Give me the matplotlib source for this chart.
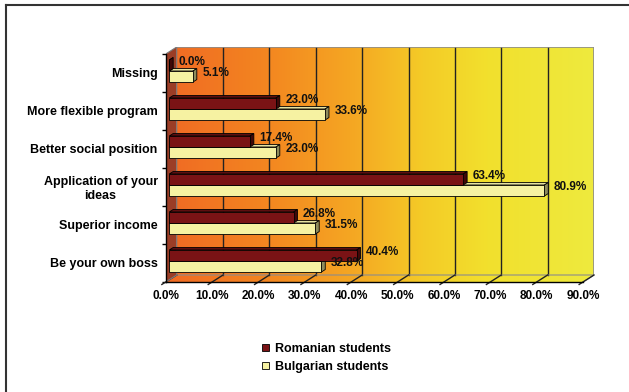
import numpy as np
import matplotlib.pyplot as plt
from matplotlib.patches import Polygon, Patch
from matplotlib.colors import LinearSegmentedColormap
from matplotlib.lines import Line2D

plt.rcParams['font.family'] = ['Liberation Sans', 'DejaVu Sans']
plt.rcParams['font.weight'] = 'bold'
plt.rcParams['font.size'] = 8.5

# data (bottom to top, as drawn)
categories = ['Be your own boss', 'Superior income', 'Application of your\nideas',
              'Better social position', 'More flexible program', 'Missing']
romanian = [40.4, 26.8, 63.4, 17.4, 23.0, 0.0]
bulgarian = [32.8, 31.5, 80.9, 23.0, 33.6, 5.1]
x_ticks = [0, 10, 20, 30, 40, 50, 60, 70, 80, 90]
series_names = ['Romanian students', 'Bulgarian students']

W, H = 629, 392
PX_PER_PCT = 417.3 / 90
PX_PER_CAT = 38.0
DX = 11.0 / PX_PER_PCT      # depth offset of the back wall, in data units
DY = 7.0 / PX_PER_CAT
XMAX, YMAX = 90, 6

fig = plt.figure(figsize=(W / 100, H / 100), dpi=100)
ax = fig.add_axes([165.7 / W, 1 - 282 / H,
                   (XMAX + DX) * PX_PER_PCT / W, (YMAX + DY) * PX_PER_CAT / H])

# back wall + floor gradient
wall_cmap = LinearSegmentedColormap.from_list('wall', [
    (0.0, '#F06A24'), (0.22, '#F38420'), (0.44, '#F5A823'),
    (0.6, '#F4CB27'), (0.75, '#F2E02D'), (1.0, '#EEEA3E')])
grad = np.linspace(0, 1, 256).reshape(1, -1)
im = ax.imshow(grad, cmap=wall_cmap, extent=[0, XMAX + DX, 0, YMAX + DY],
               aspect='auto', origin='lower', zorder=0)
shape = Polygon([(0, 0), (XMAX, 0), (XMAX + DX, DY), (XMAX + DX, YMAX + DY),
                 (DX, YMAX + DY), (DX, DY)], closed=True, transform=ax.transData,
                facecolor='none', edgecolor='none')
ax.add_patch(shape)
im.set_clip_path(shape)

# gridlines on the back wall
for x in x_ticks[1:-1]:
    ax.plot([x + DX, x + DX], [DY, YMAX + DY], color='#222222', lw=1, zorder=1)
# wall border
ax.plot([DX, XMAX + DX, XMAX + DX], [YMAX + DY, YMAX + DY, DY], color='#8c8c8c', lw=1.2, zorder=1)
ax.plot([DX, XMAX + DX, XMAX], [DY, DY, 0], color='#8c8c8c', lw=0.8, zorder=1)

# floor lines / ticks
for x in x_ticks:
    ax.plot([x - 0.35 * DX, x + DX], [-0.35 * DY, DY], color='#222222', lw=1,
            zorder=2, clip_on=False)

# left side wall
ax.add_patch(Polygon([(0, 0), (0, YMAX), (DX, YMAX + DY), (DX, DY)], closed=True,
                     facecolor='#9B3D26', edgecolor='#7a7a7a', lw=0.8, zorder=2))

# bars
bar_h = 0.29
bx = 0.78
ddx, ddy = 0.35 * DX, 0.35 * DY
styles = [('#7A1315', '#5E0E10', '#3F0808'), ('#F6F2A2', '#E6E2A0', '#8E8C5C')]


def draw_bar(y0, val, cols, z):
    x0, x1, y1 = bx, bx + val, y0 + bar_h
    front, top, side = cols
    ax.add_patch(Polygon([(x0, y1), (x1, y1), (x1 + ddx, y1 + ddy), (x0 + ddx, y1 + ddy)],
                         closed=True, facecolor=top, edgecolor='black', lw=0.6, zorder=z))
    ax.add_patch(Polygon([(x1, y0), (x1 + ddx, y0 + ddy), (x1 + ddx, y1 + ddy), (x1, y1)],
                         closed=True, facecolor=side, edgecolor='black', lw=0.6, zorder=z))
    ax.add_patch(Polygon([(x0, y0), (x1, y0), (x1, y1), (x0, y1)],
                         closed=True, facecolor=front, edgecolor='black', lw=0.6, zorder=z))
    ax.text(x1 + 2.0, y0 + bar_h / 2 + 0.08, f'{val:.1f}%', ha='left', va='center',
            fontsize=8.5, fontweight='bold', color='#111111', zorder=6)


for i in range(len(categories)):
    draw_bar(i + 0.263, bulgarian[i], styles[1], 3)
    draw_bar(i + 0.263 + bar_h, romanian[i], styles[0], 4)

# front axis lines
ax.plot([0, 0], [0, YMAX], color='black', lw=1, zorder=5, clip_on=False)
ax.plot([0, XMAX], [0, 0], color='black', lw=1, zorder=5, clip_on=False)

ax.set_xlim(0, XMAX + DX)
ax.set_ylim(0, YMAX + DY)
for s in ax.spines.values():
    s.set_visible(False)

ax.set_yticks([i + 0.5 for i in range(len(categories))])
ax.set_yticklabels(categories, ha='right', multialignment='center', fontsize=9)
ax.set_yticks(range(YMAX + 1), minor=True)
ax.tick_params(axis='y', which='major', length=0, pad=5.8)
ax.tick_params(axis='y', which='minor', length=3, width=1, color='black')
ax.set_xticks(x_ticks)
ax.set_xticklabels([f'{t:.1f}%' for t in x_ticks], fontsize=8.5)
ax.tick_params(axis='x', length=0, pad=6)

# legend
handles = [Patch(facecolor=styles[0][0], edgecolor='black', lw=0.6),
           Patch(facecolor=styles[1][0], edgecolor='black', lw=0.6)]
fig.legend(handles, series_names, loc='center left', bbox_to_anchor=(262 / W, 1 - 358 / H),
           frameon=False, fontsize=9, handlelength=0.55, handleheight=0.55,
           handletextpad=0.5, labelspacing=0.5, borderpad=0, borderaxespad=0)

# outer frame
fig.add_artist(Line2D([5.5 / W, 5.5 / W], [0, 1 - 5 / H], color='#333333', lw=1.5))
fig.add_artist(Line2D([5.5 / W, 1], [1 - 5 / H, 1 - 5 / H], color='#333333', lw=1.5))

fig.savefig('out.png', dpi=100)
